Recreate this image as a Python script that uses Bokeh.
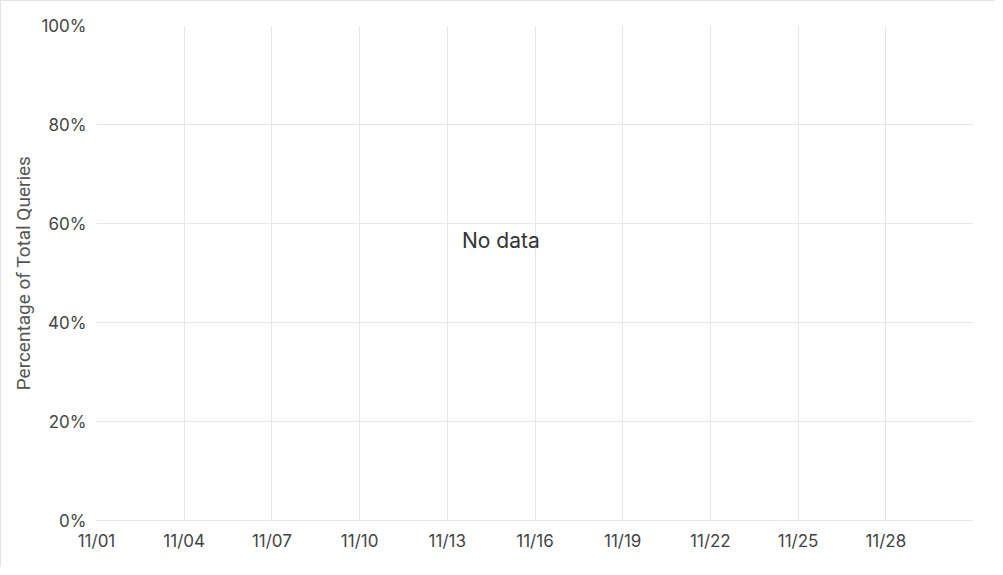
from datetime import datetime
from bokeh.plotting import figure
from bokeh.models import FixedTicker, NumeralTickFormatter, DatetimeTickFormatter, Range1d, ColumnDataSource
from bokeh.core.properties import value
from bokeh.embed import file_html
from bokeh.resources import INLINE

# Data
x_start = datetime(2023, 11, 1)
x_end = datetime(2023, 12, 1)
x_tick_dates = [datetime(2023, 11, d) for d in [1, 4, 7, 10, 13, 16, 19, 22, 25, 28]]
y_ticks = [0.0, 0.2, 0.4, 0.6, 0.8, 1.0]
y_label = "Percentage of Total Queries"
message = ["No data"]
message_x = [datetime(2023, 11, 14, 20)]
message_y = [0.565]

p = figure(width=995, height=567, x_axis_type="datetime",
           x_range=Range1d(x_start, x_end), y_range=Range1d(0, 1),
           output_backend="svg", toolbar_location=None,
           min_border_left=95, min_border_right=23, min_border_top=24, min_border_bottom=48)
p.styles = {"border-top": "1px solid #e3e3e3", "border-left": "1px solid #e3e3e3"}
p.outline_line_color = None
p.background_fill_color = "white"
p.border_fill_color = "white"

grid_color = "#e6e6e6"
p.xgrid.grid_line_color = grid_color
p.ygrid.grid_line_color = grid_color

tick_ms = [d.timestamp() * 1000 for d in x_tick_dates]
p.xaxis.ticker = FixedTicker(ticks=tick_ms)
p.xaxis.formatter = DatetimeTickFormatter(days="%m/%d", months="%m/%d", hours="%m/%d")
p.yaxis.ticker = FixedTicker(ticks=y_ticks)
p.yaxis.formatter = NumeralTickFormatter(format="0%")

for ax in (p.xaxis, p.yaxis):
    ax.major_tick_line_color = None
    ax.minor_tick_line_color = None
    ax.axis_line_color = None
    ax.major_label_text_font = "Inter"
    ax.major_label_text_font_size = "17px"
    ax.major_label_text_color = "#444444"
p.xaxis.axis_line_color = grid_color
p.xaxis.major_label_standoff = 4
p.yaxis.major_label_standoff = 4

p.yaxis.axis_label = y_label
p.yaxis.axis_label_text_font = "Roboto"
p.yaxis.axis_label_text_font_style = "normal"
p.yaxis.axis_label_text_font_size = "19px"
p.yaxis.axis_label_text_color = "#555555"
p.yaxis.axis_label_standoff = 3

src = ColumnDataSource(dict(x=message_x, y=message_y, t=message))
p.text(x="x", y="y", text="t", source=src, text_font=value("Inter"),
       text_font_size="21px", text_color="#333333", text_align="center",
       text_baseline="middle")

open("out.html", "w").write(file_html(p, INLINE))
